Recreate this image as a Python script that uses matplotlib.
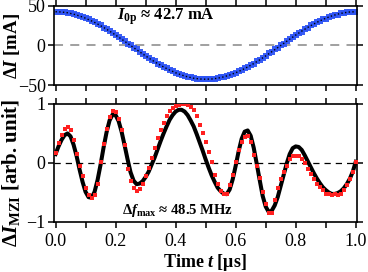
import matplotlib
matplotlib.use("Agg")
import matplotlib.pyplot as plt
import numpy as np

plt.rcParams['font.family'] = ['Liberation Serif', 'DejaVu Serif']
plt.rcParams['mathtext.fontset'] = 'custom'
plt.rcParams['mathtext.rm'] = 'Liberation Serif:bold'
plt.rcParams['mathtext.it'] = 'Liberation Serif:italic:bold'
plt.rcParams['mathtext.bf'] = 'Liberation Serif:bold'

# time grid [us], sampled every 0.01
t_data = np.linspace(0, 1, 101)
t_fit_current = np.linspace(0, 1, 51)

# measured current modulation [mA]
current = [42.5, 42.9, 42.1, 42.3, 41.2, 40.9, 39.3, 38.9, 37.0, 36.4,
           34.2, 33.3, 30.8, 29.6, 26.8, 25.5, 22.5, 21.1, 17.8, 16.3,
           12.8, 11.1, 7.6, 5.9, 2.2, 0.4, -3.1, -4.9, -8.5, -10.2,
           -13.7, -15.3, -18.6, -20.2, -23.3, -24.7, -27.6, -29.0, -31.5, -32.6,
           -34.8, -35.8, -37.6, -38.3, -39.9, -40.4, -41.6, -41.8, -42.6, -42.3,
           -42.9, -42.4, -42.7, -41.8, -41.6, -40.5, -39.9, -38.4, -37.6, -35.7,
           -34.8, -32.5, -31.4, -28.9, -27.5, -24.6, -23.2, -20.1, -18.5, -15.2,
           -13.5, -10.1, -8.3, -4.8, -3.0, 0.5, 2.3, 5.8, 7.6, 11.0,
           12.7, 16.0, 17.6, 20.9, 22.4, 25.4, 26.7, 29.5, 30.6, 33.1,
           34.0, 36.2, 36.9, 38.7, 39.2, 40.7, 40.9, 42.1, 42.0, 42.8, 42.4]

# fitted current [mA]
current_fit = [42.7, 42.4, 41.4, 39.7, 37.4, 34.5, 31.1, 27.2, 22.9, 18.2,
               13.2, 8.0, 2.7, -2.7, -8.0, -13.2, -18.2, -22.9, -27.2, -31.1,
               -34.5, -37.4, -39.7, -41.4, -42.4, -42.7, -42.4, -41.4, -39.7, -37.4,
               -34.5, -31.1, -27.2, -22.9, -18.2, -13.2, -8.0, -2.7, 2.7, 8.0,
               13.2, 18.2, 22.9, 27.2, 31.1, 34.5, 37.4, 39.7, 41.4, 42.4, 42.7]

# measured MZI signal [arb. unit]
mzi_meas = [0.17, 0.33, 0.47, 0.58, 0.61, 0.55, 0.38, 0.15, -0.06, -0.22,
            -0.42, -0.55, -0.60, -0.55, -0.36, 0.02, 0.32, 0.58, 0.78, 0.88,
            0.86, 0.74, 0.55, 0.30, -0.10, -0.30, -0.42, -0.47, -0.45, -0.36,
            -0.22, -0.08, 0.08, 0.26, 0.42, 0.55, 0.68, 0.80, 0.88, 0.93,
            0.97, 0.98, 0.99, 0.99, 0.98, 0.95, 0.90, 0.80, 0.64, 0.50,
            0.36, 0.18, 0.02, -0.20, -0.35, -0.47, -0.53, -0.52, -0.38, -0.20,
            0.02, 0.22, 0.36, 0.44, 0.45, 0.36, 0.14, -0.05, -0.25, -0.50,
            -0.70, -0.84, -0.84, -0.62, -0.42, -0.28, -0.15, -0.05, 0.06, 0.11,
            0.12, 0.11, 0.07, 0.00, -0.10, -0.19, -0.28, -0.35, -0.41, -0.46,
            -0.52, -0.53, -0.54, -0.53, -0.54, -0.52, -0.46, -0.37, -0.27, -0.16, 0.02]

# simulated MZI signal [arb. unit]
mzi_sim = [0.15, 0.28, 0.39, 0.47, 0.50, 0.45, 0.31, 0.12, -0.11, -0.32,
           -0.49, -0.58, -0.59, -0.49, -0.29, -0.03, 0.26, 0.52, 0.72, 0.82,
           0.81, 0.71, 0.53, 0.30, 0.06, -0.16, -0.30, -0.36, -0.35, -0.31,
           -0.24, -0.15, -0.03, 0.09, 0.23, 0.37, 0.50, 0.62, 0.73, 0.81,
           0.87, 0.90, 0.90, 0.87, 0.81, 0.72, 0.62, 0.49, 0.35, 0.21,
           0.06, -0.08, -0.21, -0.32, -0.42, -0.48, -0.52, -0.53, -0.45, -0.28,
           -0.05, 0.20, 0.41, 0.53, 0.55, 0.46, 0.26, -0.01, -0.29, -0.56,
           -0.74, -0.83, -0.81, -0.72, -0.58, -0.39, -0.20, -0.01, 0.15, 0.25,
           0.28, 0.27, 0.22, 0.13, 0.03, -0.07, -0.17, -0.26, -0.34, -0.41,
           -0.46, -0.50, -0.525, -0.525, -0.51, -0.48, -0.43, -0.36, -0.27, -0.15, 0.02]

fig = plt.figure(figsize=(3.68, 2.72), dpi=100)
ax1 = fig.add_axes([0.146, 0.6875, 0.824, 0.2905])
ax2 = fig.add_axes([0.146, 0.184, 0.824, 0.434])

ax1.plot(t_data, current, 's', color='#2f55f5', ms=4.0, mew=0, alpha=0.95)
ax1.plot(t_fit_current, current_fit, ':', color='black', lw=1.0)
ax1.axhline(0, color='#999999', ls='--', lw=1.3, dashes=(5, 4), zorder=0)
ax1.set_ylim(-50, 50)
ax1.set_yticks([-50, 0, 50])
ax1.text(0.205, 37, r'$I_{\rm 0p}$ ≈ 42.7 mA', fontsize=12, fontweight='bold', va='center')
ax1.set_ylabel(r'$\Delta I$ [mA]', fontsize=13.5, fontweight='bold')
ax1.yaxis.set_label_coords(-0.105, 0.5)

ax2.plot(t_data, mzi_sim, '-', color='black', lw=2.9, zorder=2)
ax2.plot(t_data, mzi_meas, 's', color='#ff2020', ms=2.7, mew=0, zorder=3)
ax2.axhline(0, color='black', ls='--', lw=0.9, dashes=(5, 4), zorder=0)
ax2.set_ylim(-1, 1)
ax2.set_yticks([-1, 0, 1])
ax2.text(0.222, -0.8, r'$\Delta f_{\rm max}$ ≈ 48.5 MHz', fontsize=10.5, fontweight='bold', va='center')
ax2.set_ylabel(r'$\Delta I_{\rm MZI}$ [arb. unit]', fontsize=15, fontweight='bold')
ax2.yaxis.set_label_coords(-0.105, 0.42)
ax2.set_xlabel(r'Time $t$ [μs]', fontsize=13, fontweight='bold')
ax2.xaxis.set_label_coords(0.5, -0.255)

for ax in (ax1, ax2):
    ax.set_xlim(-0.006, 1.004)
    ax.set_xticks(np.arange(0, 1.01, 0.1))
    ax.tick_params(direction='out', length=4.3, width=1.1, top=True, right=True,
                   labelsize=13, pad=1.5)
    ax.tick_params(axis='x', pad=4)
    for s in ax.spines.values():
        s.set_linewidth(1.2)

ax1.set_xticklabels([])
ax2.set_xticklabels(['0.0', '', '0.2', '', '0.4', '', '0.6', '', '0.8', '', '1.0'])

fig.savefig('out.png', dpi=100)
